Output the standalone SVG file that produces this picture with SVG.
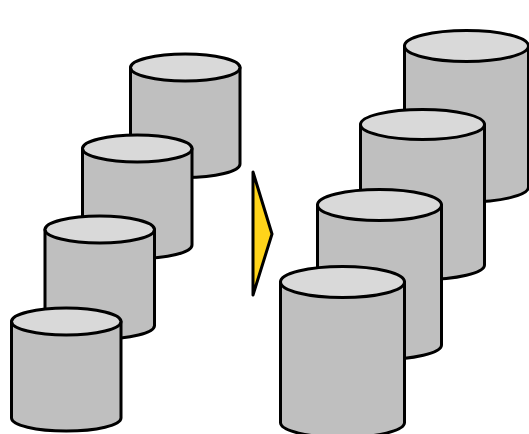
<svg xmlns="http://www.w3.org/2000/svg" width="529" height="434" viewBox="0 0 529 434">
<style>
.b{fill:#bfbfbf;stroke:#000;stroke-width:3;stroke-linejoin:round}
.t{fill:#d9d9d9;stroke:#000;stroke-width:3}
.a{fill:#ffd41a;stroke:#000;stroke-width:3;stroke-linejoin:round}
</style>
<rect width="529" height="434" fill="#fff"/>
<g id="small-1"><path class="b" d="M130.500 67.500V164A54.750 13.500 0 0 0 240 164V67.500Z"/><ellipse class="t" cx="185.250" cy="67.500" rx="54.750" ry="13.500"/></g>
<g id="small-2"><path class="b" d="M82.500 148.500V245A54.750 13.500 0 0 0 192 245V148.500Z"/><ellipse class="t" cx="137.250" cy="148.500" rx="54.750" ry="13.500"/></g>
<g id="small-3"><path class="b" d="M45 229.500V325.500A54.750 13.500 0 0 0 154.500 325.500V229.500Z"/><ellipse class="t" cx="99.750" cy="229.500" rx="54.750" ry="13.500"/></g>
<g id="small-4"><path class="b" d="M11.500 321.500V418A54.750 13 0 0 0 121 418V321.500Z"/><ellipse class="t" cx="66.250" cy="321.500" rx="54.750" ry="13.500"/></g>
<g id="arrow"><path class="a" d="M253 172L272 234L253 295Z"/></g>
<g id="large-1"><path class="b" d="M404.500 46V187A62 15 0 0 0 528.500 187V46Z"/><ellipse class="t" cx="466.500" cy="46" rx="62" ry="15.500"/></g>
<g id="large-2"><path class="b" d="M360.500 124.500V265A62 14.500 0 0 0 484.500 265V124.500Z"/><ellipse class="t" cx="422.500" cy="124.500" rx="62" ry="15"/></g>
<g id="large-3"><path class="b" d="M317.500 205V345A62 14.500 0 0 0 441.500 345V205Z"/><ellipse class="t" cx="379.500" cy="205" rx="62" ry="15.500"/></g>
<g id="large-4"><path class="b" d="M280.500 282V422.500A62 15 0 0 0 404.500 422.500V282Z"/><ellipse class="t" cx="342.500" cy="282" rx="62" ry="15.500"/></g>
<g id="connectors"></g>
</svg>
